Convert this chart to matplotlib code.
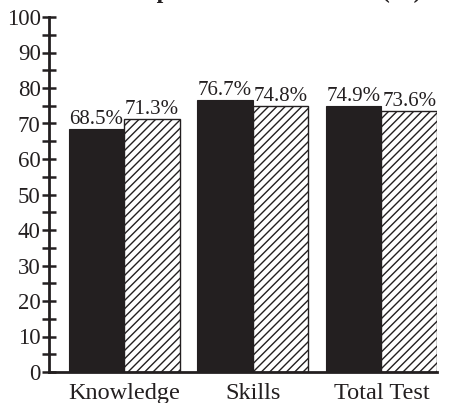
import numpy as np
import matplotlib
matplotlib.use("Agg")
import matplotlib.pyplot as plt

categories = ["Knowledge", "Skills", "Total Test"]
series_a = [68.5, 76.7, 74.9]   # solid bars
series_b = [71.3, 74.8, 73.6]   # hatched bars
y_ticks = list(range(0, 101, 10))

plt.rcParams['font.family'] = ['Liberation Serif', 'DejaVu Serif']
plt.rcParams['hatch.linewidth'] = 1.0

fig = plt.figure(figsize=(4.5, 4.03), dpi=100)
ax = fig.add_axes([49 / 450, 1 - 372 / 403, (437 - 49) / 450, (372 - 17) / 403])

x = np.arange(len(categories))
width = 0.432

bars_a = ax.bar(x - width / 2, series_a, width, color='#231f20', edgecolor='#231f20', linewidth=0.8)
bars_b = ax.bar(x + width / 2, series_b, width, color='white', edgecolor='#231f20', hatch='////', linewidth=1.0)

for bars, vals in [(bars_a, series_a), (bars_b, series_b)]:
    for b, v in zip(bars, vals):
        ax.text(b.get_x() + b.get_width() / 2, v, f"{v:.1f}%", ha='center', va='bottom',
                fontsize=15, color='#231f20')

ax.set_xlim(-0.584, 2 + width)
ax.set_ylim(0, 100)
ax.set_yticks(y_ticks)
ax.set_yticks(np.arange(5, 100, 10), minor=True)
ax.set_xticks(x)
ax.set_xticklabels(categories)

ax.tick_params(axis='y', which='both', direction='inout', length=10, width=1.8,
               labelsize=16.5, pad=1, colors='#231f20')
ax.tick_params(axis='x', length=0, labelsize=17.5, pad=8, colors='#231f20')

for s in ['top', 'right']:
    ax.spines[s].set_visible(False)
for s in ['left', 'bottom']:
    ax.spines[s].set_linewidth(2)
    ax.spines[s].set_color('#231f20')

# title sits mostly above the canvas in the reference, only descenders show
fig.text(108 / 450, 1 + 2 / 403, "Comparison of Test Scores (%)", ha='left', va='baseline',
         fontsize=17, fontweight='bold', color='#231f20')

fig.savefig("out.png", dpi=100)
